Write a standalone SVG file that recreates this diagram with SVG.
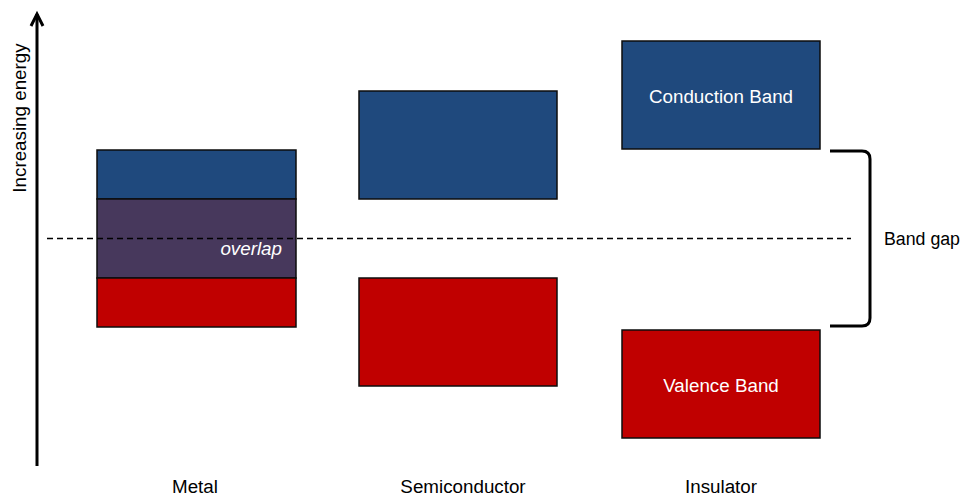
<svg xmlns="http://www.w3.org/2000/svg" width="964" height="497" viewBox="0 0 964 497">
<style>
.t{font-family:"Liberation Sans",Arial,sans-serif;font-size:18.8px;fill:#000}
.w{fill:#fff}
.cb{fill:#1F497D;stroke:#0d0d0d;stroke-width:1.5}
.vb{fill:#C00000;stroke:#0d0d0d;stroke-width:1.5}
.ov{fill:#47385C;stroke:#0d0d0d;stroke-width:1.5}
</style>
<rect width="964" height="497" fill="#fff"/>
<g id="axis">
<line x1="37" y1="14" x2="37" y2="466" stroke="#000" stroke-width="3"/>
<polyline points="31,26 37,14 43,26" fill="none" stroke="#000" stroke-width="3" stroke-linejoin="miter"/>
<text class="t" text-anchor="middle" transform="translate(26,118) rotate(-90)">Increasing energy</text>
</g>
<g id="metal">
<rect class="cb" x="97" y="150" width="199" height="49"/>
<rect class="ov" x="97" y="199" width="199" height="79"/>
<rect class="vb" x="97" y="278" width="199" height="49"/>
<text class="t w" x="282" y="255" text-anchor="end" font-style="italic">overlap</text>
<text class="t" x="195" y="493" text-anchor="middle">Metal</text>
</g>
<g id="semiconductor">
<rect class="cb" x="359" y="91" width="198" height="108"/>
<rect class="vb" x="359" y="278" width="198" height="108"/>
<text class="t" x="463" y="493" text-anchor="middle">Semiconductor</text>
</g>
<g id="insulator">
<rect class="cb" x="622" y="41" width="198" height="108"/>
<text class="t w" x="721" y="103" text-anchor="middle">Conduction Band</text>
<rect class="vb" x="622" y="330" width="198" height="108"/>
<text class="t w" x="721" y="392" text-anchor="middle">Valence Band</text>
<text class="t" x="721" y="493" text-anchor="middle">Insulator</text>
</g>
<g id="connectors">
<line x1="47" y1="238.5" x2="851" y2="238.5" stroke="#000" stroke-width="1.6" stroke-dasharray="6,4"/>
<path d="M830 151 L862 151 Q870 151 870 159 L870 318 Q870 326 862 326 L830 326" fill="none" stroke="#000" stroke-width="3"/>
</g>
<g id="bandgap">
<text class="t" x="884" y="245" textLength="76" lengthAdjust="spacingAndGlyphs">Band gap</text>
</g>
</svg>
